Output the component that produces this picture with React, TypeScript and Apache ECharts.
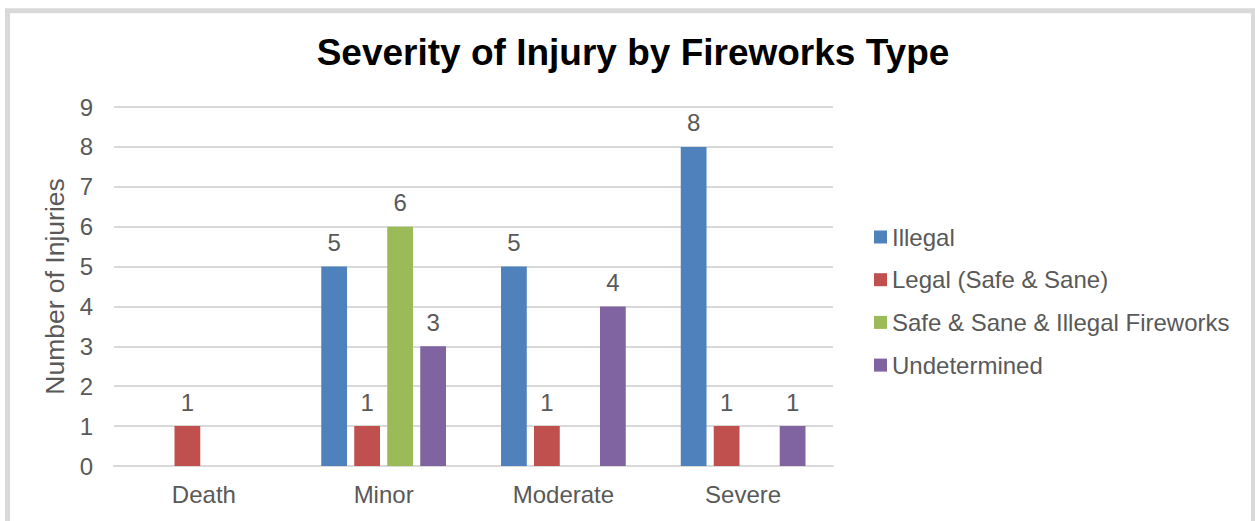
import React, { useEffect, useRef } from "react";
import * as echarts from "echarts";

const categories = ["Death", "Minor", "Moderate", "Severe"];
const seriesNames = [
  "Illegal",
  "Legal (Safe & Sane)",
  "Safe & Sane & Illegal Fireworks",
  "Undetermined",
];
const illegal = [null, 5, 5, 8];
const legal = [1, 1, 1, 1];
const safeSaneIllegal = [null, 6, null, null];
const undetermined = [null, 3, 4, 1];
const colors = ["#4F81BD", "#C0504D", "#9BBB59", "#8064A2"];
const yTicks = { min: 0, max: 9, interval: 1 };

const FONT = "'Liberation Sans', Arial, sans-serif";
const TEXT = "#595959";

export default function App() {
  const ref = useRef<HTMLDivElement>(null);
  useEffect(() => {
    if (!ref.current) return;
    const chart = echarts.init(ref.current, null, { renderer: "svg" });
    const values = [illegal, legal, safeSaneIllegal, undetermined];
    chart.setOption({
      animation: false,
      backgroundColor: "#ffffff",
      textStyle: { fontFamily: FONT },
      title: {
        text: "Severity of Injury by Fireworks Type",
        left: 628,
        textAlign: "center",
        top: 29,
        textStyle: { fontFamily: FONT, fontSize: 37, fontWeight: "bold", color: "#000000" },
      },
      graphic: [
        {
          type: "rect",
          shape: { x: 7.5, y: 10.7, width: 1246, height: 600 },
          style: { fill: "none", stroke: "#d9d9d9", lineWidth: 5 },
          silent: true,
        },
      ],
      legend: {
        orient: "vertical",
        left: 869,
        top: 220,
        itemWidth: 13,
        itemHeight: 13,
        itemGap: 18.7,
        icon: "rect",
        textStyle: { fontFamily: FONT, fontSize: 24, color: TEXT },
        data: seriesNames,
      },
      grid: { left: 114, right: 422, top: 107, bottom: 55, containLabel: false },
      xAxis: {
        type: "category",
        data: categories,
        axisLine: { lineStyle: { color: "#d9d9d9", width: 2 } },
        axisTick: { show: false },
        axisLabel: { fontFamily: FONT, fontSize: 24, color: TEXT, margin: 16 },
      },
      yAxis: {
        type: "value",
        min: yTicks.min,
        max: yTicks.max,
        interval: yTicks.interval,
        name: "Number of Injuries",
        nameLocation: "middle",
        nameGap: 44,
        nameTextStyle: { fontFamily: FONT, fontSize: 26.5, color: TEXT },
        axisLine: { show: false },
        axisTick: { show: false },
        axisLabel: { fontFamily: FONT, fontSize: 24, color: TEXT, margin: 21 },
        splitLine: { lineStyle: { color: "#d9d9d9", width: 2 } },
      },
      series: seriesNames.map((name, i) => ({
        name,
        type: "bar",
        data: values[i],
        barCategoryGap: "30.6%",
        barGap: "28%",
        itemStyle: { color: colors[i] },
        label: {
          show: true,
          position: "top",
          distance: 12,
          fontFamily: FONT,
          fontSize: 24,
          color: TEXT,
        },
      })),
    });
    return () => chart.dispose();
  }, []);
  return (
    <div
      ref={ref}
      style={{ position: "absolute", left: 0, top: 0, width: 1255, height: 521 }}
    />
  );
}
